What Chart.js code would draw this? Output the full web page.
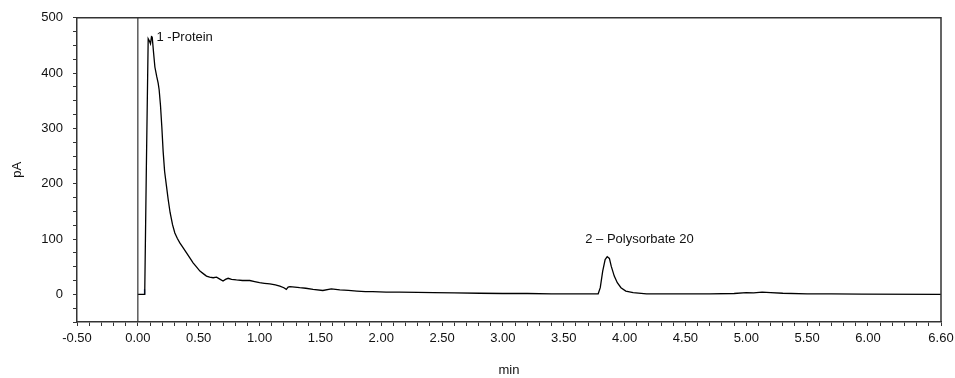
<!DOCTYPE html>
<html>
<head>
<meta charset="utf-8">
<script src="https://cdn.jsdelivr.net/npm/chart.js@4.4.1/dist/chart.umd.min.js"></script>
<style>
  html, body { margin: 0; padding: 0; background: #fff; }
  #wrap { width: 955px; height: 378px; }
</style>
</head>
<body>
<div id="wrap"><canvas id="chrom"></canvas></div>
<script>
// retention time (min) and detector signal (pA)
const times = [
  0, 0.055, 0.057, 0.07, 0.085, 0.095, 0.104, 0.112, 0.118, 0.13,
  0.14, 0.155, 0.167, 0.175, 0.186, 0.197, 0.208, 0.22, 0.235, 0.249,
  0.265, 0.285, 0.304, 0.325, 0.345, 0.37, 0.4, 0.43, 0.454, 0.48,
  0.51, 0.54, 0.564, 0.59, 0.619, 0.647, 0.67, 0.70, 0.72, 0.742,
  0.77, 0.81, 0.86, 0.92, 0.96, 1.0, 1.04, 1.085, 1.13, 1.167,
  1.2, 1.22, 1.235, 1.25, 1.29, 1.33, 1.38, 1.44, 1.52, 1.59,
  1.66, 1.73, 1.8, 1.87, 1.93, 2.04, 2.15, 2.3, 2.43, 2.6,
  2.81, 3.0, 3.2, 3.4, 3.6, 3.75, 3.783, 3.8, 3.82, 3.84,
  3.857, 3.875, 3.89, 3.915, 3.94, 3.97, 4.01, 4.07, 4.18, 4.4,
  4.7, 4.9, 5.0, 5.06, 5.13, 5.2, 5.3, 5.5, 5.7, 5.95,
  6.6
];
const signal = [
  0, 0, 8, 230, 462, 458, 453, 466, 465, 435,
  411, 394, 382, 370, 342, 303, 258, 222, 196, 172,
  148, 126, 111, 101, 93, 85, 75, 65, 57, 50,
  42, 37, 33, 31, 30, 31, 28, 24, 27, 29,
  27, 26, 25, 25, 23, 21, 20, 19, 17, 15,
  12, 9, 13, 14, 13, 12, 11, 9, 7, 10,
  8, 7, 6, 5, 5, 4, 4, 3.5, 3, 2.5,
  2, 1.5, 1.5, 1, 1, 1, 1, 12, 42, 63,
  68, 65, 51, 33, 21, 12, 6, 3, 1, 1,
  1, 1.5, 3, 2.5, 4, 3, 2, 1, 1, 0.5,
  0
];
// short injection marker at the start of the run
const markerTimes = [0.055, 0.055];
const markerSignal = [0, 9];

const peakNames = ["1 -Protein", "2 \u2013 Polysorbate 20"];
const peakTimes = [0.112, 3.857];
const peakHeights = [466, 68];

const xTicksMajor = [-0.5, 0, 0.5, 1, 1.5, 2, 2.5, 3, 3.5, 4, 4.5, 5, 5.5, 6, 6.6];
const yTicksMajor = [0, 100, 200, 300, 400, 500];

const axisColor = "#333";
const fontFamily = "'Liberation Sans', Arial, sans-serif";

const near = (v, list) => list.some(t => Math.abs(v - t) < 1e-6);

// box around the plot area plus the vertical line at t = 0
const framePlugin = {
  id: "frame",
  afterDraw(chart) {
    const { ctx, chartArea: a, scales } = chart;
    ctx.save();
    ctx.strokeStyle = axisColor;
    ctx.lineWidth = 1.5;
    ctx.beginPath();
    ctx.moveTo(a.left, a.top);
    ctx.lineTo(a.right, a.top);
    ctx.lineTo(a.right, a.bottom);
    ctx.stroke();
    const x0 = scales.x.getPixelForValue(0);
    ctx.lineWidth = 1.2;
    ctx.beginPath();
    ctx.moveTo(x0, a.top);
    ctx.lineTo(x0, a.bottom);
    ctx.stroke();
    ctx.restore();
  }
};

// peak names next to the apex of each peak
const peakLabelPlugin = {
  id: "peakLabels",
  afterDatasetsDraw(chart) {
    const { ctx, scales } = chart;
    ctx.save();
    ctx.font = "13px " + fontFamily;
    ctx.fillStyle = "#111";
    ctx.textBaseline = "middle";
    ctx.textAlign = "left";
    const px0 = scales.x.getPixelForValue(peakTimes[0]);
    const py0 = scales.y.getPixelForValue(peakHeights[0]);
    ctx.fillText(peakNames[0], px0 + 5, py0 + 1);
    const px1 = scales.x.getPixelForValue(peakTimes[1]);
    const py1 = scales.y.getPixelForValue(peakHeights[1]);
    ctx.fillText(peakNames[1], px1 - 22, py1 - 17);
    ctx.restore();
  }
};

new Chart(document.getElementById("chrom"), {
  type: "line",
  data: {
    datasets: [
      {
        data: times.map((t, i) => ({ x: t, y: signal[i] })),
        borderColor: "#000",
        borderWidth: 1.3,
        pointRadius: 0,
        tension: 0,
        fill: false
      },
      {
        data: markerTimes.map((t, i) => ({ x: t, y: markerSignal[i] })),
        borderColor: "#1f4fb0",
        borderWidth: 1.3,
        pointRadius: 0,
        fill: false
      }
    ]
  },
  options: {
    responsive: true,
    maintainAspectRatio: false,
    animation: false,
    layout: { padding: { top: 17, right: 14, left: 0, bottom: 0 } },
    plugins: {
      legend: { display: false },
      tooltip: { enabled: false }
    },
    scales: {
      x: {
        type: "linear",
        min: -0.5,
        max: 6.6,
        afterBuildTicks(scale) {
          const ticks = [];
          for (let k = -5; k <= 66; k++) ticks.push({ value: k / 10 });
          scale.ticks = ticks;
        },
        afterFit(scale) {
          scale.height = 56;
          scale.paddingRight = 0;
        },
        border: { color: axisColor, width: 1.5 },
        grid: { drawOnChartArea: false, drawTicks: true, tickLength: 4, color: axisColor },
        ticks: {
          autoSkip: false,
          maxRotation: 0,
          padding: 5,
          color: "#111",
          font: { family: fontFamily, size: 13 },
          callback: v => near(v, xTicksMajor) ? v.toFixed(2) : ""
        },
        title: {
          display: true,
          text: "min",
          color: "#111",
          font: { family: fontFamily, size: 13 },
          padding: { top: 0, bottom: 0 }
        }
      },
      y: {
        min: -50,
        max: 500,
        afterBuildTicks(scale) {
          const ticks = [];
          for (let v = -50; v <= 500; v += 25) ticks.push({ value: v });
          scale.ticks = ticks;
        },
        afterFit(scale) { scale.width = 77; },
        border: { color: axisColor, width: 1.5 },
        grid: { drawOnChartArea: false, drawTicks: true, tickLength: 4, color: axisColor },
        ticks: {
          autoSkip: false,
          padding: 10,
          color: "#111",
          font: { family: fontFamily, size: 13 },
          callback: v => near(v, yTicksMajor) ? String(v) : ""
        },
        title: {
          display: true,
          text: "pA",
          color: "#111",
          font: { family: fontFamily, size: 13 },
          padding: { top: 10, bottom: 0 }
        }
      }
    }
  },
  plugins: [framePlugin, peakLabelPlugin]
});
</script>
</body>
</html>
